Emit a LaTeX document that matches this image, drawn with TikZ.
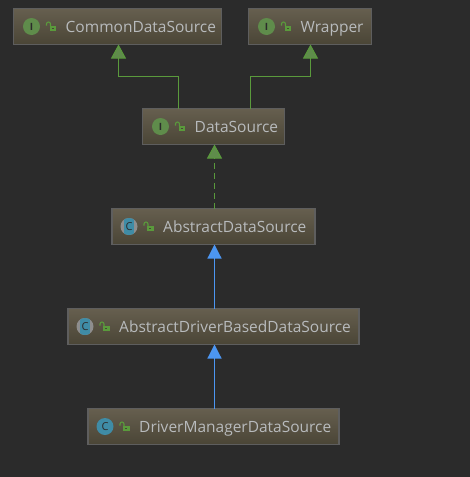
\documentclass[tikz,border=0pt]{standalone}
\usepackage{fontspec}
\setmainfont{Open Sans}
\usetikzlibrary{positioning,arrows.meta}

\definecolor{panelbg}{HTML}{2B2B2B}
\definecolor{boxtop}{HTML}{665F4F}
\definecolor{boxbottom}{HTML}{4A4536}
\definecolor{boxline}{HTML}{5E5E5E}
\definecolor{labeltext}{HTML}{B8BBBD}
\definecolor{ifacegreen}{HTML}{5F8C4B}
\definecolor{lockgreen}{HTML}{5A9A3C}
\definecolor{classteal}{HTML}{3F8CA6}
\definecolor{extendblue}{HTML}{4C96F2}

\tikzset{
  classbox/.style={draw=boxline,line width=1.2pt,top color=boxtop,bottom color=boxbottom,
    minimum height=36pt,inner sep=0pt,outer sep=0pt},
  classlabel/.style={text=labeltext,font=\fontsize{15.5}{17}\selectfont,inner sep=0pt,anchor=west,
    text height=11pt,text depth=0pt},
  badge/.style={circle,minimum size=17pt,inner sep=0pt,outer sep=0pt},
  ifacebadge/.style={badge,fill=ifacegreen,text=panelbg,font=\fontsize{10}{10}\selectfont\bfseries\rmfamily},
  classbadge/.style={badge,fill=classteal,text=panelbg,font=\fontsize{11}{11}\selectfont},
  absbadge/.style={badge,fill=boxline!70!white,text=panelbg,font=\fontsize{11}{11}\selectfont,
    path picture={\fill[classteal] ([xshift=-5pt]path picture bounding box.south) rectangle ([xshift=5pt]path picture bounding box.north);}},
  lockicon/.pic={
    \fill[lockgreen] (-2,-4.5) rectangle (4.5,0.5);
    \fill[boxbottom] (0.4,-2.8) rectangle (2,-1.2);
    \draw[lockgreen,line width=1.1pt] (-1,0.5) -- (-1,2.5) arc (0:180:2) -- (-5,1);
  },
  implements/.style={draw=lockgreen,line width=1pt,-{Triangle[width=15pt,length=14pt,fill=ifacegreen]}},
  extends/.style={draw=extendblue,line width=1.2pt,-{Triangle[width=14pt,length=14pt]}}
}

\begin{document}
\begin{tikzpicture}[x=1pt,y=1pt]

  \fill [panelbg] (0,0) rectangle (470,-477);
  \useasboundingbox (0,0) rectangle (470,-477);

  % Interfaces
  \node [classbox,minimum width=208pt] (common) at (117.5,-26.5) {};
  \node [classbox,minimum width=123pt,right=27pt of common] (wrapper) {};
  \node [classbox,minimum width=142pt] (dsource) at (213.5,-126.5) {};

  % Classes
  \node [classbox,minimum width=203pt,below=64pt of dsource] (absds) {};
  \node [classbox,minimum width=291pt,below=64pt of absds] (absdriver) {};
  \node [classbox,minimum width=251pt,below=64pt of absdriver] (drivermgr) {};

  % Badges
  \node [ifacebadge,right=9.5pt of common.west] (commonbadge) {I};
  \node [ifacebadge,right=9.5pt of wrapper.west] (wrapperbadge) {I};
  \node [ifacebadge,right=9.5pt of dsource.west] (dsourcebadge) {I};
  \node [absbadge,right=8.5pt of absds.west] (absdsbadge) {C};
  \node [absbadge,right=8.5pt of absdriver.west] (absdriverbadge) {C};
  \node [classbadge,right=8.5pt of drivermgr.west] (drivermgrbadge) {C};

  % Locks
  \pic at ([xshift=38pt]common.west) {lockicon};
  \pic at ([xshift=38pt]wrapper.west) {lockicon};
  \pic at ([xshift=38pt]dsource.west) {lockicon};
  \pic at ([xshift=37pt]absds.west) {lockicon};
  \pic at ([xshift=37pt]absdriver.west) {lockicon};
  \pic at ([xshift=37pt]drivermgr.west) {lockicon};

  % Labels
  \node [classlabel,right=52pt of common.west] (commonlabel) {CommonDataSource};
  \node [classlabel,right=52pt of wrapper.west] (wrapperlabel) {Wrapper};
  \node [classlabel,right=52pt of dsource.west] (dsourcelabel) {DataSource};
  \node [classlabel,right=51pt of absds.west] (absdslabel) {AbstractDataSource};
  \node [classlabel,right=51pt of absdriver.west] (absdriverlabel) {AbstractDriverBasedDataSource};
  \node [classlabel,right=51pt of drivermgr.west] (drivermgrlabel) {DriverManagerDataSource};

  % Arrow ends, on whole pixels
  \node [coordinate,right=1pt of common.south] (commonin) {};
  \node [coordinate,right=0.5pt of wrapper.south] (wrapperin) {};
  \node [coordinate,right=1pt of dsource.south] (dsourcein) {};
  \node [coordinate,right=1pt of absds.north] (absdsout) {};
  \node [coordinate,right=1pt of absds.south] (absdsin) {};
  \node [coordinate,right=1pt of absdriver.north] (absdriverout) {};
  \node [coordinate,right=1pt of absdriver.south] (absdriverin) {};
  \node [coordinate,right=1pt of drivermgr.north] (drivermgrout) {};

  % Elbows above DataSource
  \node [coordinate,left=35pt of dsource.north] (ds1) {};
  \node [coordinate,above=32pt of ds1] (ds1up) {};
  \node [coordinate,right=37pt of dsource.north] (ds2) {};
  \node [coordinate,above=32pt of ds2] (ds2up) {};

  \draw [implements] (ds1) -- (ds1up) -- (ds1up -| commonin) -- (commonin);
  \draw [implements] (ds2) -- (ds2up) -- (ds2up -| wrapperin) -- (wrapperin);
  \draw [implements,dash pattern=on 6pt off 4pt] (absdsout) -- (dsourcein);
  \draw [extends] (absdriverout) -- (absdsin);
  \draw [extends] (drivermgrout) -- (absdriverin);

\end{tikzpicture}
\end{document}
